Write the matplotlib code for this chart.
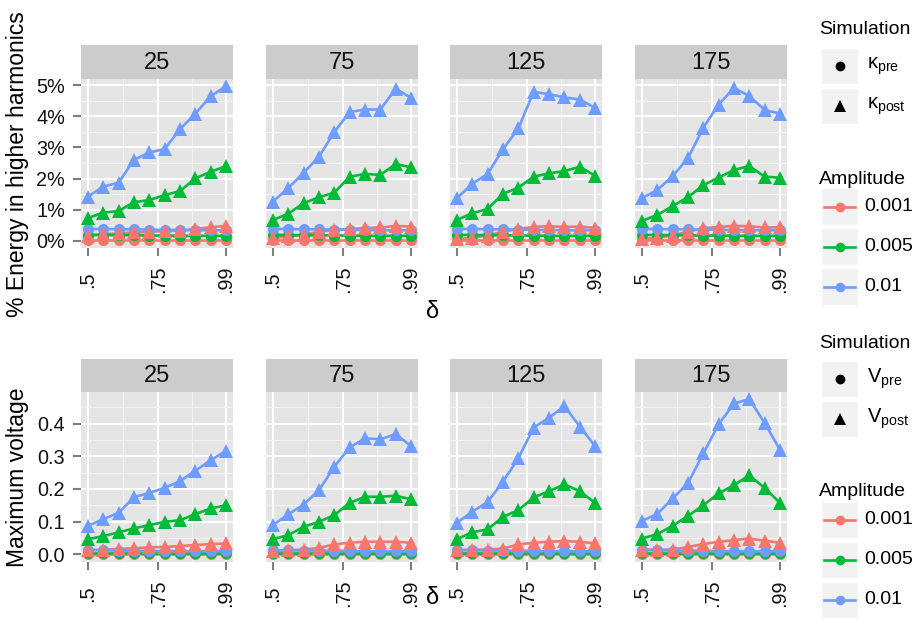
import matplotlib
matplotlib.use("Agg")
import matplotlib.pyplot as plt
from matplotlib.patches import Rectangle

plt.rcParams['font.family'] = ['Liberation Sans', 'DejaVu Sans']
plt.rcParams['mathtext.fontset'] = 'custom'
plt.rcParams['mathtext.rm'] = 'Liberation Sans'
plt.rcParams['mathtext.it'] = 'Liberation Sans:italic'

# ---------------- data ----------------
delta = [0.5, 0.554, 0.609, 0.663, 0.718, 0.772, 0.827, 0.881, 0.936, 0.99]
facets = ["25", "75", "125", "175"]
amplitudes = ["0.001", "0.005", "0.01"]
colors = ["#F8766D", "#00BA38", "#6E9CFF"]

x_ticks = [0.5, 0.75, 0.99]
x_ticklabels = [".5", ".75", ".99"]
energy_ticks = [0, 1, 2, 3, 4, 5]
energy_ticklabels = ["0%", "1%", "2%", "3%", "4%", "5%"]
voltage_ticks = [0.0, 0.1, 0.2, 0.3, 0.4]
voltage_ticklabels = ["0.0", "0.1", "0.2", "0.3", "0.4"]

# % energy in higher harmonics, pre (same in every facet)
energy_pre_001 = [0.02, 0.02, 0.02, 0.02, 0.02, 0.02, 0.02, 0.02, 0.02, 0.02]
energy_pre_005 = [0.19, 0.19, 0.18, 0.18, 0.17, 0.17, 0.16, 0.16, 0.16, 0.16]
energy_pre_01 = [0.38, 0.38, 0.37, 0.37, 0.36, 0.35, 0.35, 0.34, 0.34, 0.34]

# % energy, post (one list per facet 25, 75, 125, 175)
energy_post_001 = [
    [0.17, 0.21, 0.24, 0.27, 0.29, 0.31, 0.33, 0.38, 0.44, 0.48],
    [0.09, 0.14, 0.20, 0.29, 0.35, 0.38, 0.41, 0.43, 0.48, 0.46],
    [0.05, 0.10, 0.17, 0.30, 0.38, 0.45, 0.47, 0.45, 0.46, 0.42],
    [0.05, 0.10, 0.17, 0.30, 0.40, 0.45, 0.48, 0.47, 0.43, 0.44],
]
energy_post_005 = [
    [0.73, 0.91, 0.96, 1.24, 1.31, 1.47, 1.60, 2.01, 2.22, 2.40],
    [0.67, 0.87, 1.21, 1.40, 1.55, 2.06, 2.15, 2.12, 2.47, 2.36],
    [0.67, 0.89, 1.02, 1.51, 1.71, 2.06, 2.17, 2.24, 2.38, 2.09],
    [0.64, 0.83, 1.12, 1.40, 1.79, 2.03, 2.28, 2.40, 2.06, 2.03],
]
energy_post_01 = [
    [1.42, 1.74, 1.87, 2.60, 2.84, 2.95, 3.59, 4.09, 4.65, 4.97],
    [1.26, 1.69, 2.19, 2.70, 3.50, 4.14, 4.22, 4.22, 4.89, 4.59],
    [1.37, 1.83, 2.15, 2.94, 3.61, 4.79, 4.71, 4.61, 4.54, 4.27],
    [1.37, 1.63, 2.08, 2.65, 3.64, 4.38, 4.91, 4.65, 4.20, 4.09],
]

# maximum voltage, pre (same in every facet)
voltage_pre_001 = [0.001, 0.001, 0.001, 0.001, 0.001, 0.001, 0.001, 0.001, 0.001, 0.001]
voltage_pre_005 = [0.004, 0.004, 0.004, 0.004, 0.004, 0.004, 0.004, 0.004, 0.004, 0.004]
voltage_pre_01 = [0.012, 0.012, 0.011, 0.011, 0.010, 0.010, 0.009, 0.009, 0.009, 0.009]

# maximum voltage, post
voltage_post_001 = [
    [0.012, 0.014, 0.016, 0.018, 0.021, 0.022, 0.025, 0.028, 0.031, 0.033],
    [0.010, 0.012, 0.014, 0.019, 0.030, 0.035, 0.038, 0.038, 0.038, 0.035],
    [0.012, 0.014, 0.014, 0.017, 0.030, 0.035, 0.038, 0.040, 0.038, 0.033],
    [0.014, 0.014, 0.014, 0.022, 0.031, 0.038, 0.043, 0.048, 0.041, 0.035],
]
voltage_post_005 = [
    [0.046, 0.055, 0.067, 0.079, 0.089, 0.099, 0.104, 0.123, 0.140, 0.150],
    [0.046, 0.058, 0.084, 0.099, 0.120, 0.157, 0.176, 0.176, 0.179, 0.168],
    [0.046, 0.067, 0.076, 0.114, 0.135, 0.174, 0.193, 0.214, 0.193, 0.157],
    [0.048, 0.061, 0.087, 0.117, 0.150, 0.186, 0.212, 0.242, 0.202, 0.157],
]
voltage_post_01 = [
    [0.087, 0.107, 0.127, 0.174, 0.188, 0.203, 0.224, 0.256, 0.288, 0.317],
    [0.089, 0.122, 0.152, 0.196, 0.268, 0.327, 0.355, 0.352, 0.368, 0.331],
    [0.096, 0.130, 0.160, 0.222, 0.294, 0.388, 0.418, 0.454, 0.391, 0.331],
    [0.102, 0.123, 0.171, 0.217, 0.309, 0.398, 0.462, 0.475, 0.401, 0.319],
]

# ---------------- layout ----------------
W, H = 915, 636
fig = plt.figure(figsize=(W / 100, H / 100), dpi=100)


def px(x0, y0, x1, y1):
    return [x0 / W, 1 - y1 / H, (x1 - x0) / W, (y1 - y0) / H]


lefts = [81, 266, 450, 635]
pw = 152
rows = [
    dict(strip=(45, 79), panel=(79, 248), pre=[energy_pre_001, energy_pre_005, energy_pre_01],
         post=[energy_post_001, energy_post_005, energy_post_01], ylim=(-0.23, 5.2),
         ticks=energy_ticks, ticklabels=energy_ticklabels,
         minor=[0.5, 1.5, 2.5, 3.5, 4.5]),
    dict(strip=(359, 392), panel=(392, 562), pre=[voltage_pre_001, voltage_pre_005, voltage_pre_01],
         post=[voltage_post_001, voltage_post_005, voltage_post_01], ylim=(-0.024, 0.497),
         ticks=voltage_ticks, ticklabels=voltage_ticklabels,
         minor=[0.05, 0.15, 0.25, 0.35, 0.45]),
]

TICKCOL = "#7F7F7F"
for row in rows:
    for fi, facet in enumerate(facets):
        x0 = lefts[fi]
        sax = fig.add_axes(px(x0, row['strip'][0], x0 + pw, row['strip'][1]))
        sax.set_facecolor("#CCCCCC")
        sax.set_xticks([]); sax.set_yticks([])
        for s in sax.spines.values():
            s.set_visible(False)
        sax.text(0.5, 0.47, facet, ha='center', va='center', fontsize=17, color='#111111',
                 transform=sax.transAxes)

        ax = fig.add_axes(px(x0, row['panel'][0], x0 + pw, row['panel'][1]))
        ax.set_facecolor("#E5E5E5")
        for s in ax.spines.values():
            s.set_visible(False)
        ax.set_xlim(0.4755, 1.0145)
        ax.set_ylim(*row['ylim'])
        ax.set_xticks(x_ticks)
        ax.set_xticks([0.625, 0.87], minor=True)
        ax.set_yticks(row['ticks'])
        ax.set_yticks(row['minor'], minor=True)
        ax.grid(which='major', color='white', linewidth=1.5)
        ax.grid(which='minor', color='#F2F2F2', linewidth=0.8)
        ax.set_axisbelow(True)
        ax.tick_params(which='minor', length=0)
        ax.tick_params(axis='both', which='major', length=6, width=1.5, color=TICKCOL,
                       labelsize=14.3, labelcolor='#111111')
        ax.set_xticklabels(x_ticklabels)
        ax.tick_params(axis='x', pad=16.5)
        for lab in ax.get_xticklabels():
            lab.set_rotation(90)
            lab.set_va('center')
            lab.set_ha('center')
        if fi == 0:
            ax.set_yticklabels(row['ticklabels'])
            ax.tick_params(axis='y', pad=5.5)
        else:
            ax.tick_params(axis='y', length=0, labelleft=False)

        # lines first
        for ci in range(3):
            ax.plot(delta, row['pre'][ci], color=colors[ci], lw=1.9, zorder=2,
                    solid_capstyle='butt')
            ax.plot(delta, row['post'][ci][fi], color=colors[ci], lw=1.9, zorder=2,
                    solid_capstyle='butt')
        # points
        for ci in range(3):
            ax.plot(delta, row['pre'][ci], 'o', color=colors[ci], ms=8, mew=0, zorder=3)
        for ci in range(3):
            ax.plot(delta, row['post'][ci][fi], '^', color=colors[ci], ms=10, mew=0, zorder=4)

# ---------------- overlay: titles and legends ----------------
ov = fig.add_axes([0, 0, 1, 1])
ov.set_xlim(0, W)
ov.set_ylim(H, 0)
ov.axis('off')

ov.text(18, 164, "% Energy in higher harmonics", rotation=90, ha='center', va='center',
        fontsize=16.5, color='black')
ov.text(18, 477, "Maximum voltage", rotation=90, ha='center', va='center',
        fontsize=16.5, color='black')
ov.text(433, 312, "δ", ha='center', va='center', fontsize=17, color='black')
ov.text(433, 598, "δ", ha='center', va='center', fontsize=17, color='black')

legends = [
    dict(sim_title=30, sim_keys=[(48, 84), (88, 124)], sim_labels=["κ$_{\\mathrm{pre}}$", "κ$_{\\mathrm{post}}$"],
         amp_title=179, amp_keys=[(188, 225), (228, 265), (268, 305)]),
    dict(sim_title=343, sim_keys=[(361, 397), (401, 437)], sim_labels=["V$_{\\mathrm{pre}}$", "V$_{\\mathrm{post}}$"],
         amp_title=492, amp_keys=[(502, 538), (542, 578), (582, 618)]),
]
kx0, kx1 = 821, 858
LFS = 14.0
for lg in legends:
    ov.text(819, lg['sim_title'], "Simulation", ha='left', va='center', fontsize=LFS, color='black')
    for k, ((y0, y1), lab, mk) in enumerate(zip(lg['sim_keys'], lg['sim_labels'], ['o', '^'])):
        ov.add_patch(Rectangle((kx0, y0), kx1 - kx0, y1 - y0, facecolor='#F2F2F2', edgecolor='white', lw=1))
        ov.plot([(kx0 + kx1) / 2], [(y0 + y1) / 2], mk, color='black', ms=7 if mk == 'o' else 8.5, mew=0)
        ov.text(867, (y0 + y1) / 2, lab, ha='left', va='center', fontsize=LFS + 0.5, color='black')
    ov.text(819, lg['amp_title'], "Amplitude", ha='left', va='center', fontsize=LFS, color='black')
    for (y0, y1), lab, col in zip(lg['amp_keys'], amplitudes, colors):
        ov.add_patch(Rectangle((kx0, y0), kx1 - kx0, y1 - y0, facecolor='#F2F2F2', edgecolor='white', lw=1))
        ym = (y0 + y1) / 2
        ov.plot([824, 855], [ym, ym], color=col, lw=1.9)
        ov.plot([839.5], [ym], 'o', color=col, ms=7, mew=0)
        ov.text(864, ym, lab, ha='left', va='center', fontsize=LFS, color='black')

fig.savefig("out.png", dpi=100)
